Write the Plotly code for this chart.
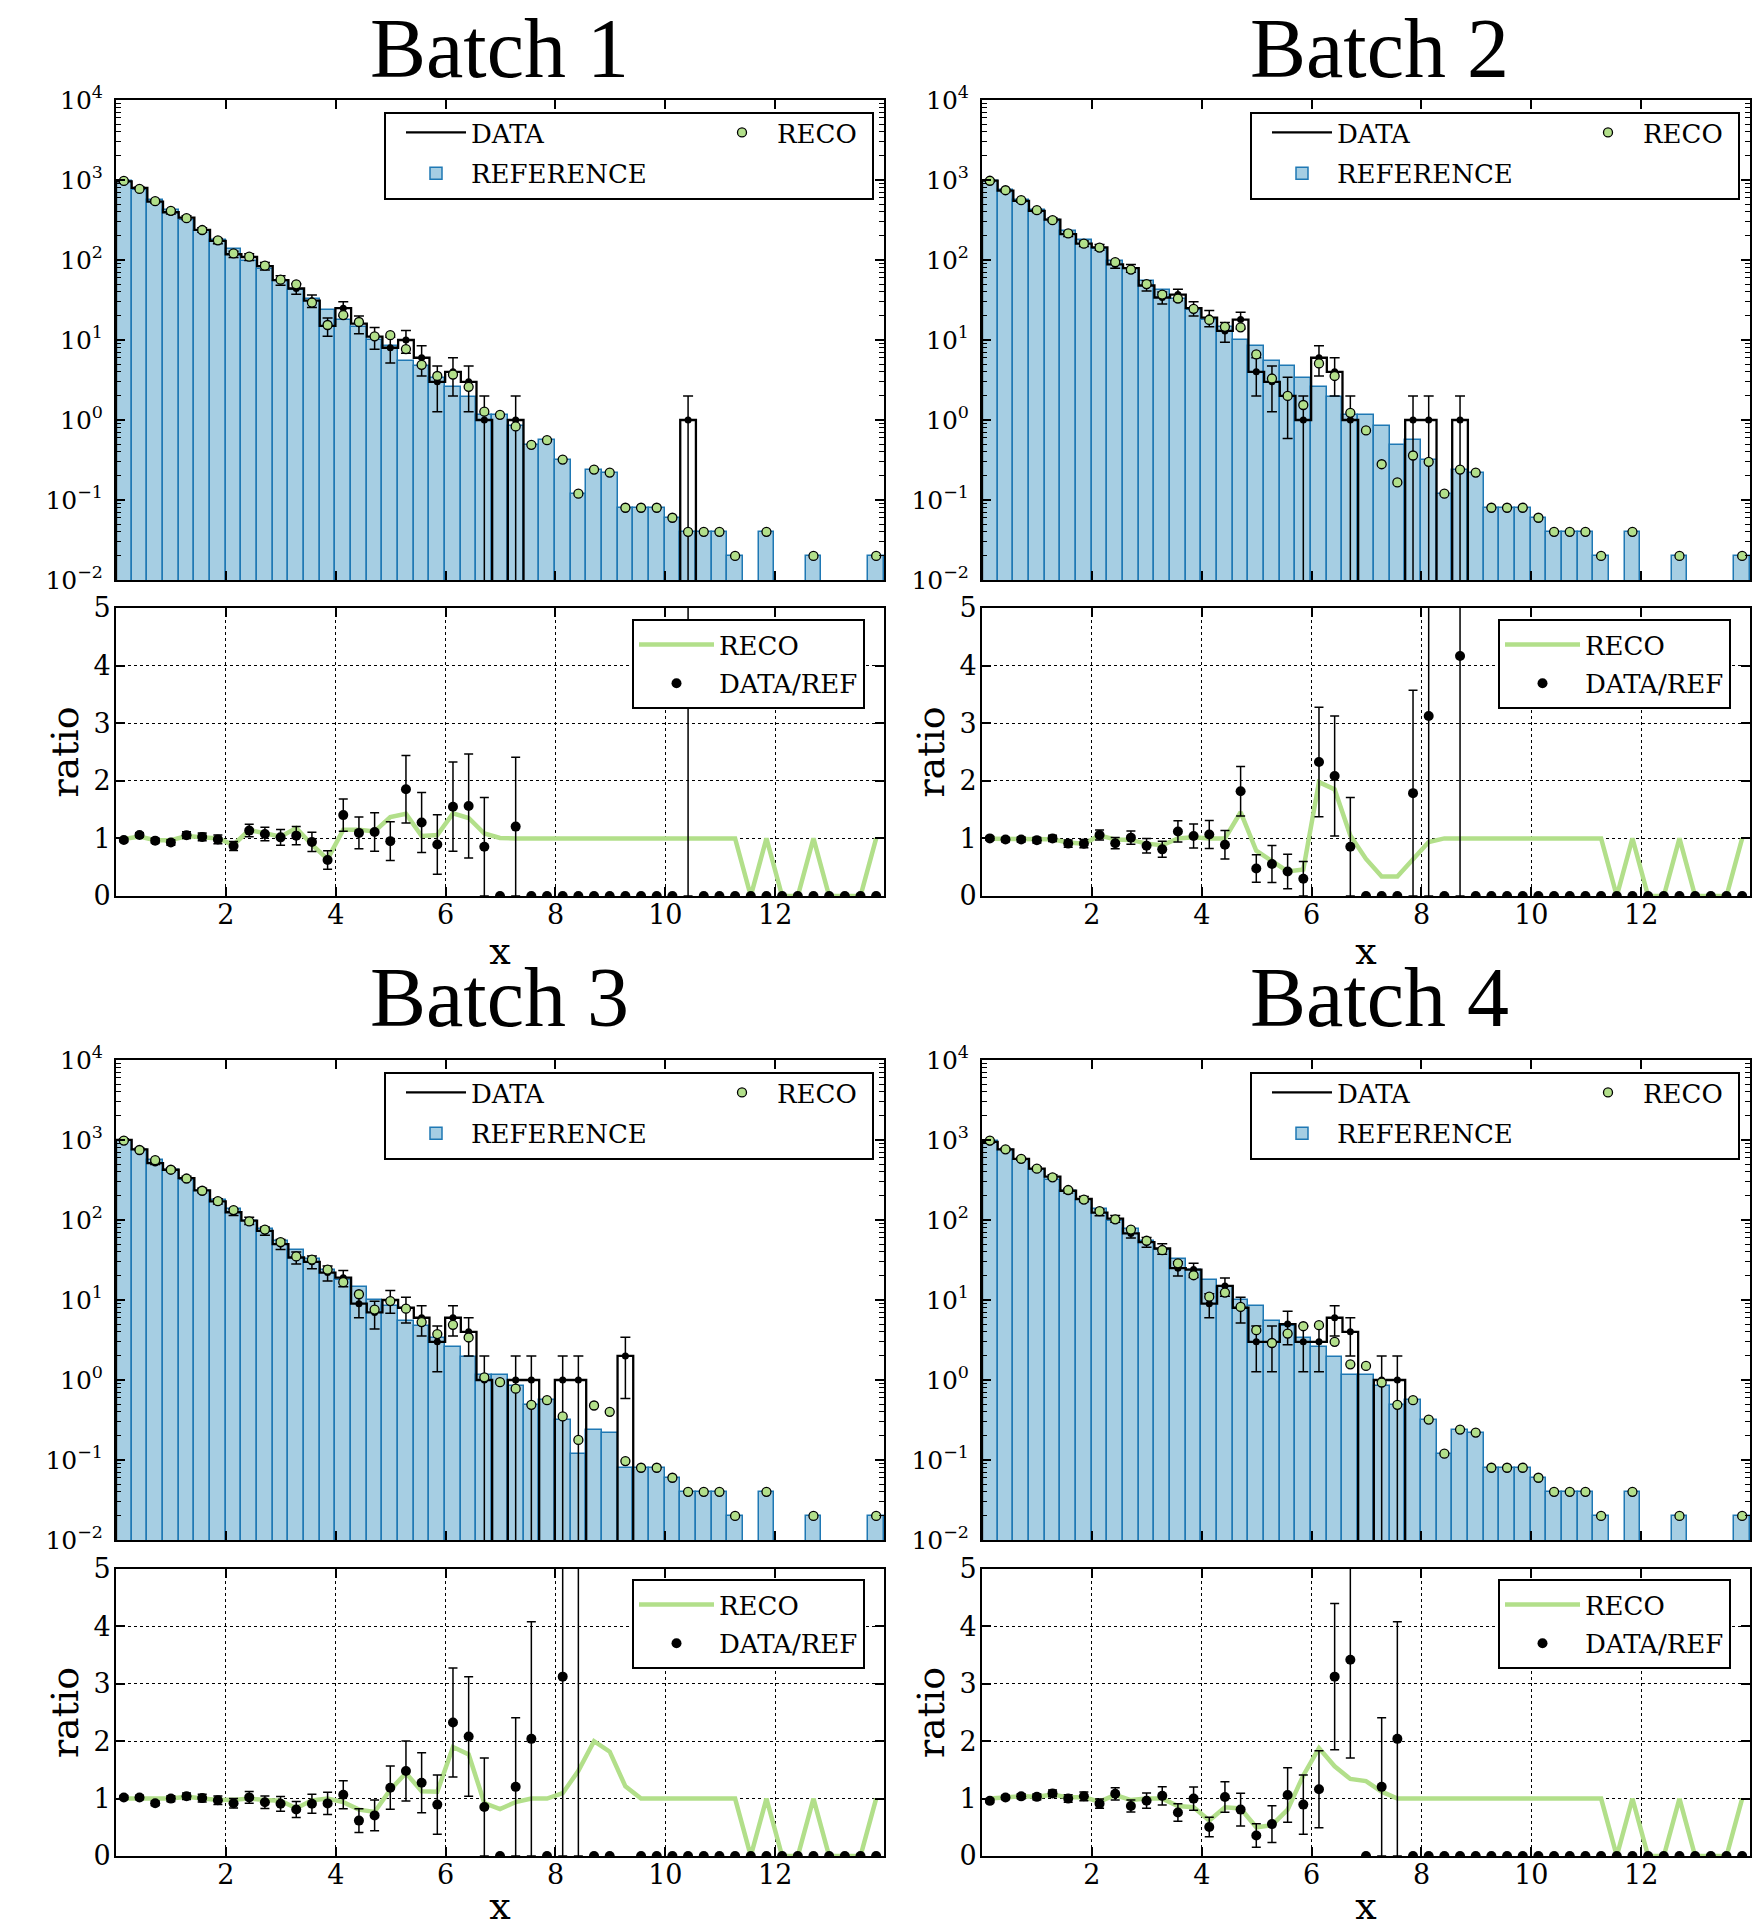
import numpy as np
import plotly.graph_objects as go

# ---- binning -------------------------------------------------------------
X_MAX = 13.98
N_BINS = 49
EDGES = np.linspace(0.0, X_MAX, N_BINS + 1)
CENTERS = 0.5 * (EDGES[:-1] + EDGES[1:])
BIN_W = EDGES[1] - EDGES[0]

# ---- histogram contents (per bin) ----------------------------------------
REF = [985, 750, 560, 425, 320, 232, 176, 136, 96, 78, 55, 42, 33, 24, 17.8,
       14.6, 9.9, 8.4, 5.4, 4.7, 3.35, 2.58, 1.92, 1.17, 1.15, 0.83, 0.49,
       0.56, 0.32, 0.12, 0.24, 0.22, 0.08, 0.08, 0.08, 0.06, 0.04, 0.04, 0.04,
       0.02, 0, 0.04, 0, 0, 0.02, 0, 0, 0, 0.02]

DATA_1 = [959, 795, 538, 395, 338, 238, 173, 118, 109, 84, 56, 44, 31, 15, 25,
          16, 11, 8, 10, 6, 3, 4, 3, 1, 0, 1, 0, 0, 0, 0, 0, 0, 0, 0, 0, 0,
          1, 0, 0, 0, 0, 0, 0, 0, 0, 0, 0, 0, 0]
RECO_1 = [975, 773, 543, 412, 333, 237, 176, 121, 110, 85, 56.7, 49.6, 29.4,
          15.4, 20.5, 16.8, 11.1, 11.5, 7.7, 4.9, 3.55, 3.7, 2.6, 1.27, 1.16,
          0.83, 0.49, 0.56, 0.32, 0.12, 0.24, 0.22, 0.08, 0.08, 0.08, 0.06,
          0.04, 0.04, 0.04, 0.02, 0, 0.04, 0, 0, 0.02, 0, 0, 0, 0.02]

DATA_2 = [985, 735, 549, 412, 320, 211, 160, 144, 88, 79, 48, 34, 37, 25, 19,
          13, 18, 4, 3, 2, 1, 6, 4, 1, 0, 0, 0, 1, 1, 0, 1, 0, 0, 0, 0, 0, 0,
          0, 0, 0, 0, 0, 0, 0, 0, 0, 0, 0, 0]
RECO_2 = [978, 745, 560, 420, 315, 215, 160, 143, 94, 76, 50, 37, 33, 24.5,
          17.8, 14.6, 14.4, 6.6, 3.3, 2.0, 1.54, 5.1, 3.55, 1.23, 0.74, 0.28,
          0.166, 0.36, 0.30, 0.12, 0.24, 0.22, 0.08, 0.08, 0.08, 0.06, 0.04,
          0.04, 0.04, 0.02, 0, 0.04, 0, 0, 0.02, 0, 0, 0, 0.02]

DATA_3 = [1005, 765, 515, 425, 333, 234, 171, 125, 98, 73, 50, 34, 30, 22, 19,
          9, 7, 10, 8, 6, 3, 6, 4, 1, 0, 1, 1, 0, 1, 1, 0, 0, 2, 0, 0, 0, 0,
          0, 0, 0, 0, 0, 0, 0, 0, 0, 0, 0, 0]
RECO_3 = [985, 750, 560, 425, 330, 232, 172, 133, 96, 76, 53, 35, 32, 24,
          16.7, 11.8, 7.6, 9.7, 7.8, 5.3, 3.75, 4.9, 3.4, 1.08, 0.94, 0.78,
          0.49, 0.56, 0.35, 0.178, 0.48, 0.40, 0.097, 0.08, 0.08, 0.06, 0.04,
          0.04, 0.04, 0.02, 0, 0.04, 0, 0, 0.02, 0, 0, 0, 0.02]

DATA_4 = [946, 765, 582, 438, 349, 232, 183, 124, 104, 68, 53, 44, 25, 24, 9,
          15, 8, 3, 3, 5, 3, 3, 6, 4, 0, 1, 1, 0, 0, 0, 0, 0, 0, 0, 0, 0, 0,
          0, 0, 0, 0, 0, 0, 0, 0, 0, 0, 0, 0]
RECO_4 = [985, 765, 582, 438, 342, 237, 180, 129, 102, 76, 55, 42, 28.7, 20.4,
          11, 12.4, 8.2, 4.2, 2.9, 3.8, 4.7, 4.85, 3.0, 1.57, 1.5, 0.93, 0.49,
          0.56, 0.32, 0.12, 0.24, 0.22, 0.08, 0.08, 0.08, 0.06, 0.04, 0.04,
          0.04, 0.02, 0, 0.04, 0, 0, 0.02, 0, 0, 0, 0.02]

TITLES = ["Batch 1", "Batch 2", "Batch 3", "Batch 4"]
DATAS = [DATA_1, DATA_2, DATA_3, DATA_4]
RECOS = [RECO_1, RECO_2, RECO_3, RECO_4]

HIST_YTICKS = [1e-2, 1e-1, 1e0, 1e1, 1e2, 1e3, 1e4]
HIST_YTICKTEXT = ["10<sup>\u22122</sup>", "10<sup>\u22121</sup>", "10<sup>0</sup>",
                  "10<sup>1</sup>", "10<sup>2</sup>", "10<sup>3</sup>", "10<sup>4</sup>"]
X_TICKS = [2, 4, 6, 8, 10, 12]
RATIO_TICKS = [0, 1, 2, 3, 4, 5]

# ---- style ---------------------------------------------------------------
REF_FILL = "#a6cee3"
REF_EDGE = "#1f78b4"
RECO_COLOR = "#b2df8a"
SERIF = "DejaVu Serif"
TITLE_FONT = "Liberation Serif"

FIG_W, FIG_H = 1764, 1928
COLS = [(116, 884), (982, 1750)]
HIST_ROWS = [(100, 580), (1060, 1540)]
RATIO_ROWS = [(608, 896), (1569, 1856)]
TITLE_POS = [(499, 48), (1379, 48), (499, 997), (1379, 997)]
FLOOR = 1e-6


def fx(p):
    return p / FIG_W


def fy(p):
    return 1.0 - p / FIG_H


def axname(n, letter):
    return letter if n == 1 else f"{letter}{n}"


def legname(n):
    return "legend" if n == 1 else f"legend{n}"


fig = go.Figure()
layout = dict(
    width=FIG_W, height=FIG_H,
    margin=dict(l=0, r=0, t=0, b=0),
    paper_bgcolor="white", plot_bgcolor="white",
    template="none", bargap=0,
    font=dict(family=SERIF, color="black"),
    annotations=[], shapes=[],
)

axis_base = dict(
    showline=True, linecolor="black", linewidth=2, mirror="ticks",
    ticks="inside", tickcolor="black", tickwidth=1.5, ticklen=9,
    zeroline=False, automargin=False,
    tickfont=dict(family=SERIF, size=27, color="black"),
)

minor_log = [m * 10.0 ** k for k in range(-2, 4) for m in range(2, 10)]

for b in range(4):
    col, row = b % 2, b // 2
    ref = np.array(REF, dtype=float)
    data = np.array(DATAS[b], dtype=float)
    reco = np.array(RECOS[b], dtype=float)

    hn, rn = 2 * b + 1, 2 * b + 2
    hx, hy = axname(hn, "x"), axname(hn, "y")
    rx, ry = axname(rn, "x"), axname(rn, "y")
    leg_a, leg_b, leg_c = legname(3 * b + 1), legname(3 * b + 2), legname(3 * b + 3)

    # reference histogram (filled bars)
    m = ref > 0
    fig.add_trace(go.Bar(
        x=CENTERS[m], y=ref[m], width=BIN_W, name="REFERENCE",
        marker=dict(color=REF_FILL, line=dict(color=REF_EDGE, width=1.5)),
        xaxis=hx, yaxis=hy, legend=leg_a, legendrank=2, legendgroup=f"ref{b}",
    ))

    # data histogram outline (step)
    sx, sy = [EDGES[0]], [FLOOR]
    for i in range(N_BINS):
        v = data[i] if data[i] > 0 else FLOOR
        sx += [EDGES[i], EDGES[i + 1]]
        sy += [v, v]
    sx.append(EDGES[-1])
    sy.append(FLOOR)
    fig.add_trace(go.Scatter(
        x=sx, y=sy, mode="lines", name="DATA",
        line=dict(color="black", width=2.3),
        xaxis=hx, yaxis=hy, legend=leg_a, legendrank=1, legendgroup=f"data{b}",
    ))

    # data points with Poisson errors
    md = data > 0
    fig.add_trace(go.Scatter(
        x=CENTERS[md], y=data[md], mode="markers", showlegend=False,
        marker=dict(color="black", size=7),
        error_y=dict(type="data", symmetric=False, array=np.sqrt(data[md]),
                     arrayminus=np.sqrt(data[md]), color="black",
                     thickness=1.5, width=5),
        xaxis=hx, yaxis=hy,
    ))

    # reconstructed points
    mr = reco > 0
    fig.add_trace(go.Scatter(
        x=CENTERS[mr], y=reco[mr], mode="markers", name="RECO",
        marker=dict(color=RECO_COLOR, size=9, line=dict(color="black", width=1.3)),
        xaxis=hx, yaxis=hy, legend=leg_b,
    ))

    # ratio panel
    ratio = np.divide(data, ref, out=np.zeros_like(data), where=ref > 0)
    ratio_err = np.divide(np.sqrt(data), ref, out=np.zeros_like(data), where=ref > 0)
    reco_ratio = np.divide(reco, ref, out=np.zeros_like(reco), where=ref > 0)

    fig.add_trace(go.Scatter(
        x=CENTERS, y=reco_ratio, mode="lines", name="RECO",
        line=dict(color=RECO_COLOR, width=4.5),
        xaxis=rx, yaxis=ry, legend=leg_c, legendgroup=f"rr{b}",
    ))
    fig.add_trace(go.Scatter(
        x=CENTERS, y=ratio, mode="markers", name="DATA/REF",
        marker=dict(color="black", size=10),
        error_y=dict(type="data", array=ratio_err, color="black",
                     thickness=1.5, width=4.5),
        xaxis=rx, yaxis=ry, legend=leg_c, legendgroup=f"dr{b}",
    ))

    # axes
    xd = [fx(COLS[col][0]), fx(COLS[col][1])]
    hyd = [fy(HIST_ROWS[row][1]), fy(HIST_ROWS[row][0])]
    ryd = [fy(RATIO_ROWS[row][1]), fy(RATIO_ROWS[row][0])]

    layout[axname(hn, "xaxis")] = dict(
        axis_base, domain=xd, anchor=hy, range=[0, X_MAX],
        tickmode="array", tickvals=X_TICKS, showticklabels=False, showgrid=False,
    )
    layout[axname(hn, "yaxis")] = dict(
        axis_base, domain=hyd, anchor=hx, type="log", range=[-2, 4],
        tickmode="array", tickvals=HIST_YTICKS, ticktext=HIST_YTICKTEXT,
        showgrid=False, ticklabelstandoff=6,
        tickfont=dict(family=SERIF, size=25, color="black"),
        minor=dict(tickmode="array", tickvals=minor_log, ticks="inside",
                   ticklen=5, tickcolor="black", tickwidth=1, showgrid=False),
    )
    layout[axname(rn, "xaxis")] = dict(
        axis_base, domain=xd, anchor=ry, range=[0, X_MAX],
        tickmode="array", tickvals=X_TICKS, showgrid=True,
        gridcolor="black", griddash="dot", gridwidth=1, ticklabelstandoff=-6,
        title=dict(text="x", font=dict(family=SERIF, size=38, color="black"),
                   standoff=8),
    )
    layout[axname(rn, "yaxis")] = dict(
        axis_base, domain=ryd, anchor=rx, range=[0, 5],
        tickmode="array", tickvals=RATIO_TICKS, showgrid=True,
        gridcolor="black", griddash="dot", gridwidth=1, ticklabelstandoff=-2,
        title=dict(text="ratio", font=dict(family=SERIF, size=38, color="black"),
                   standoff=3),
    )

    # legends
    dx, dy = col * 866, row * 960
    leg_font = dict(family=SERIF, size=26, color="black")
    layout[leg_a] = dict(x=fx(401 + dx), y=fy(109 + dy), xanchor="left", yanchor="top",
                         bgcolor="rgba(0,0,0,0)", borderwidth=0, font=leg_font,
                         itemwidth=60, traceorder="grouped", tracegroupgap=4)
    layout[leg_b] = dict(x=fx(707 + dx), y=fy(109 + dy), xanchor="left", yanchor="top",
                         bgcolor="rgba(0,0,0,0)", borderwidth=0, font=leg_font,
                         itemwidth=60)
    layout[leg_c] = dict(x=fx(632 + dx), y=fy(619 + dy), xanchor="left", yanchor="top",
                         bgcolor="white", bordercolor="black", borderwidth=2,
                         font=leg_font, itemwidth=75, traceorder="grouped",
                         tracegroupgap=2)
    layout["shapes"].append(dict(
        type="rect", xref="paper", yref="paper", layer="above",
        x0=fx(385 + dx), x1=fx(873 + dx), y0=fy(199 + dy), y1=fy(113 + dy),
        line=dict(color="black", width=2), fillcolor="white",
    ))

    # panel title
    tx, ty = TITLE_POS[b]
    layout["annotations"].append(dict(
        text=TITLES[b], x=fx(tx), y=fy(ty), xref="paper", yref="paper",
        showarrow=False, xanchor="center", yanchor="middle",
        font=dict(family=TITLE_FONT, size=84, color="black"),
    ))

fig.update_layout(**layout)
fig.write_html("out.html")
